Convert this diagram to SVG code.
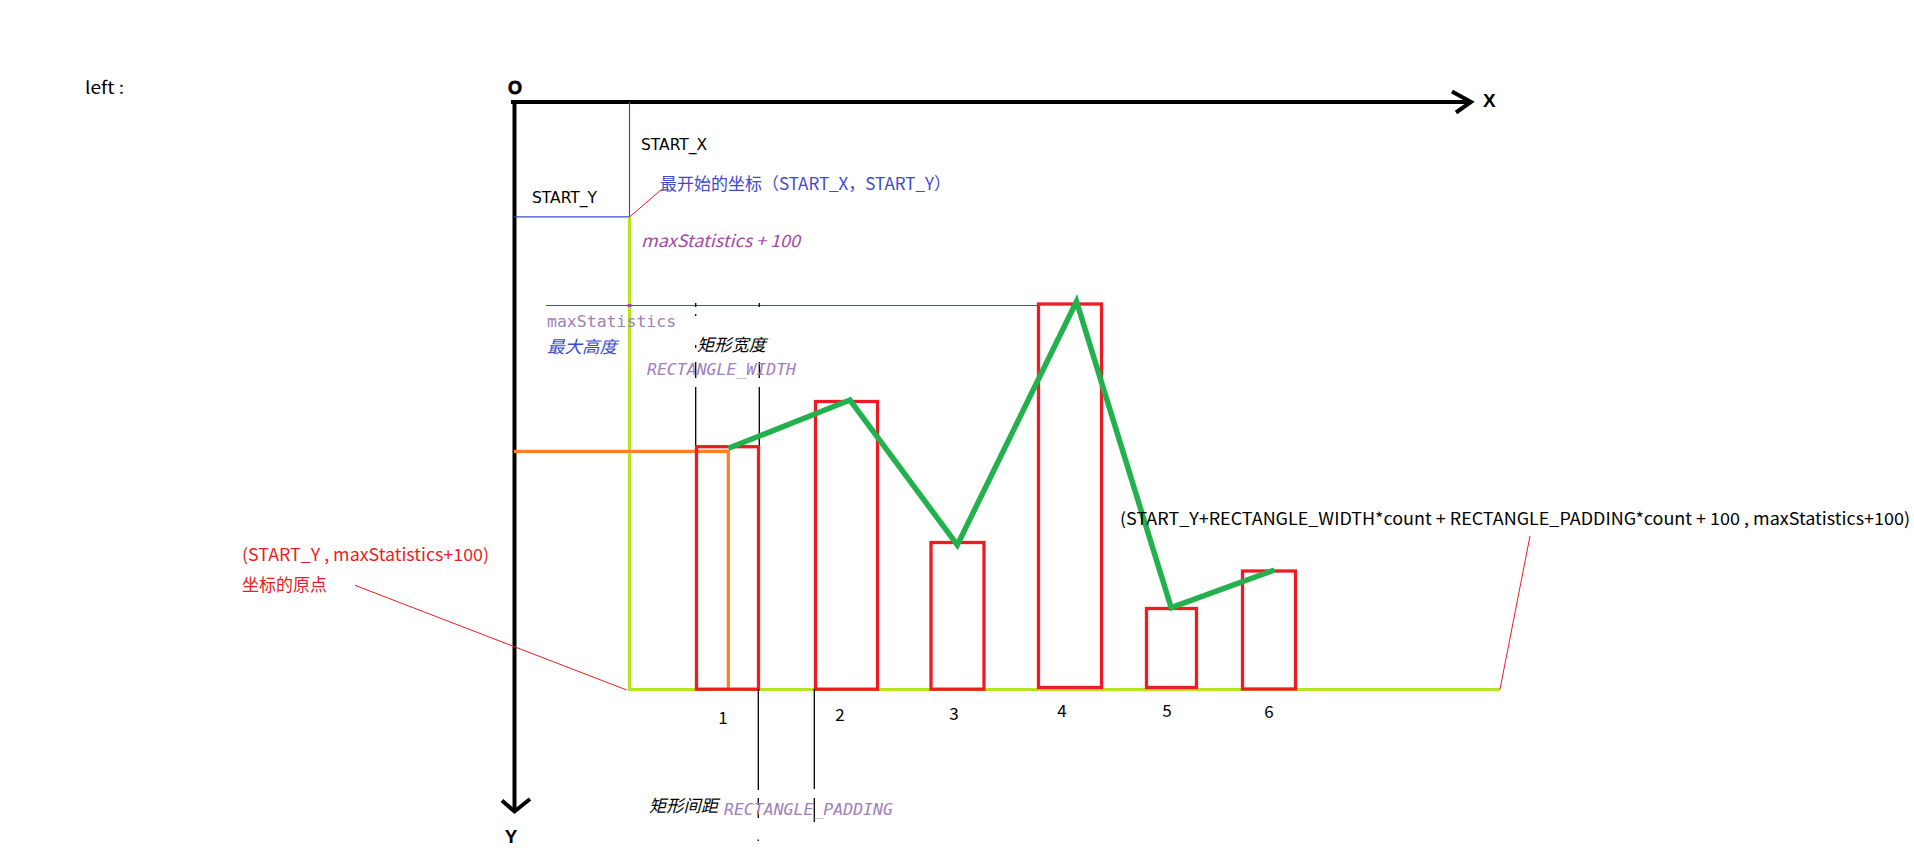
<svg xmlns="http://www.w3.org/2000/svg" width="1914" height="853" viewBox="0 0 1914 853">
<style>
  .sans { font-family: "Noto Sans CJK SC", "Noto Sans", "Liberation Sans", sans-serif; font-size: 17px; }
  .vsans { font-family: "DejaVu Sans", "Liberation Sans", sans-serif; font-size: 15.5px; fill: #000; }
  .mono { font-family: "DejaVu Sans Mono", "Liberation Mono", monospace; font-size: 16.5px; fill: #9f80b8; }
  .it { font-style: italic; }
  .bold { font-family: "Liberation Sans", "DejaVu Sans", sans-serif; font-weight: bold; font-size: 19px; fill: #000; }
  .axis { stroke: #000; stroke-width: 4; fill: none; }
  .blue { stroke: #3f48cc; stroke-width: 1.2; fill: none; }
  .lime { stroke: #b5e61d; stroke-width: 3.2; fill: none; }
  .bar { stroke: #ed1c24; stroke-width: 3.3; fill: none; }
  .tick { stroke: #000; stroke-width: 1.3; fill: none; }
  .thinred { stroke: #ed1c24; stroke-width: 1; fill: none; }
  .num { font-family: "Noto Sans CJK SC", "Liberation Sans", sans-serif; font-size: 17px; fill: #000; text-anchor: middle; }
</style>
<rect width="1914" height="853" fill="#fff"/>

<text class="sans" x="85" y="94" fill="#000" font-size="18" textLength="39" lengthAdjust="spacingAndGlyphs">left :</text>

<g id="axes">
  <line class="axis" x1="511" y1="102" x2="1470" y2="102"/>
  <polyline class="axis" stroke-width="3.5" points="1452,91.5 1471,102 1456,112.5"/>
  <line class="axis" x1="514.5" y1="100" x2="514.5" y2="810"/>
  <polyline class="axis" stroke-width="3.5" points="502,800.5 514.5,811.5 530,799"/>
  <text class="bold" x="515" y="93.5" text-anchor="middle" font-size="17" stroke="#000" stroke-width="0.8" textLength="14" lengthAdjust="spacingAndGlyphs">O</text>
  <text class="bold" x="1483" y="107">X</text>
  <text class="bold" x="511" y="843" text-anchor="middle">Y</text>
</g>

<g id="start-guides">
  <line class="blue" x1="629.5" y1="102" x2="629.5" y2="217"/>
  <line class="blue" x1="514" y1="216.8" x2="629.5" y2="216.8"/>
  <text class="vsans" x="641" y="150">START_X</text>
  <text class="vsans" x="532" y="203">START_Y</text>
  <text class="sans" x="660" y="190" fill="#3f48cc" textLength="291" lengthAdjust="spacingAndGlyphs">最开始的坐标（START_X，START_Y）</text>
</g>

<g id="frame">
  <line class="lime" x1="629.5" y1="217" x2="629.5" y2="691"/>
  <line class="lime" x1="628" y1="689.5" x2="1500" y2="689.5"/>
  <text class="sans it" x="641" y="247" fill="#a349a4" textLength="159" lengthAdjust="spacingAndGlyphs">maxStatistics + 100</text>
</g>

<g id="max-height">
  <line class="blue" x1="546" y1="305.5" x2="1038" y2="305.5"/>
  <rect x="627.5" y="304" width="4" height="3" fill="#a349a4"/>
  <text class="mono" x="547" y="327">maxStatistics</text>
  <text class="sans it" x="547" y="353" fill="#3f48cc" textLength="70" lengthAdjust="spacingAndGlyphs">最大高度</text>
</g>

<g id="width-markers">
  <path class="tick" d="M695.7,303V307 M695.7,314V316 M695.7,345V348 M695.7,362V378 M695.7,387V447"/>
  <path class="tick" d="M759.3,303V307 M759.3,362V378 M759.3,387V447"/>
  <text class="sans it" x="697" y="351" fill="#000" textLength="69" lengthAdjust="spacingAndGlyphs">矩形宽度</text>
  <text class="mono it" x="647" y="375">RECTANGLE_WIDTH</text>
</g>

<g id="orange-guide">
  <polyline points="514,451.3 728.3,451.3 728.3,689" fill="none" stroke="#ff7f27" stroke-width="3.2"/>
</g>

<g id="bars">
  <rect id="bar1" class="bar" x="696.5" y="446.7" width="62" height="242.5"/>
  <rect id="bar2" class="bar" x="815.5" y="401.5" width="62" height="287.7"/>
  <rect id="bar3" class="bar" x="931" y="542.5" width="53" height="146.7"/>
  <rect id="bar4" class="bar" x="1038.5" y="304" width="63" height="383.5"/>
  <rect id="bar5" class="bar" x="1146.5" y="608.5" width="50" height="79"/>
  <rect id="bar6" class="bar" x="1242.5" y="571" width="53" height="118"/>
</g>

<g id="labels">
  <text class="num" x="723" y="724">1</text>
  <text class="num" x="840" y="721">2</text>
  <text class="num" x="954" y="720">3</text>
  <text class="num" x="1062" y="717">4</text>
  <text class="num" x="1167" y="717">5</text>
  <text class="num" x="1269" y="718">6</text>
</g>

<g id="trend">
  <polyline points="728.3,448.3 850,400 957.3,545 1076.5,301.5 1171.2,607.7 1274.5,570" fill="none" stroke="#22b14c" stroke-width="5.5" stroke-linejoin="miter"/>
</g>

<g id="padding-markers">
  <path class="tick" d="M758.3,689V790 M758.3,798V805 M758.3,810V818 M758.3,839.5V841"/>
  <path class="tick" d="M814.3,689V789 M814.3,798V822"/>
  <text class="sans it" x="649" y="812" fill="#000" textLength="69" lengthAdjust="spacingAndGlyphs">矩形间距</text>
  <text class="mono it" x="724" y="815">RECTANGLE_PADDING</text>
</g>

<g id="connectors">
  <line class="thinred" x1="629.5" y1="217" x2="661.7" y2="189.3"/>
  <line class="thinred" x1="355" y1="585.3" x2="626.7" y2="690"/>
  <line class="thinred" x1="1530" y1="536" x2="1500" y2="689.3"/>
</g>

<g id="origin-note">
  <text class="sans" x="242" y="561" fill="#ed1c24" textLength="247" lengthAdjust="spacingAndGlyphs">(START_Y , maxStatistics+100)</text>
  <text class="sans" x="242" y="591" fill="#ed1c24" textLength="85" lengthAdjust="spacingAndGlyphs">坐标的原点</text>
</g>

<g id="end-note">
  <text class="sans" x="1120" y="525" fill="#000" textLength="790" lengthAdjust="spacingAndGlyphs">(START_Y+RECTANGLE_WIDTH*count + RECTANGLE_PADDING*count + 100 , maxStatistics+100)</text>
</g>
</svg>
